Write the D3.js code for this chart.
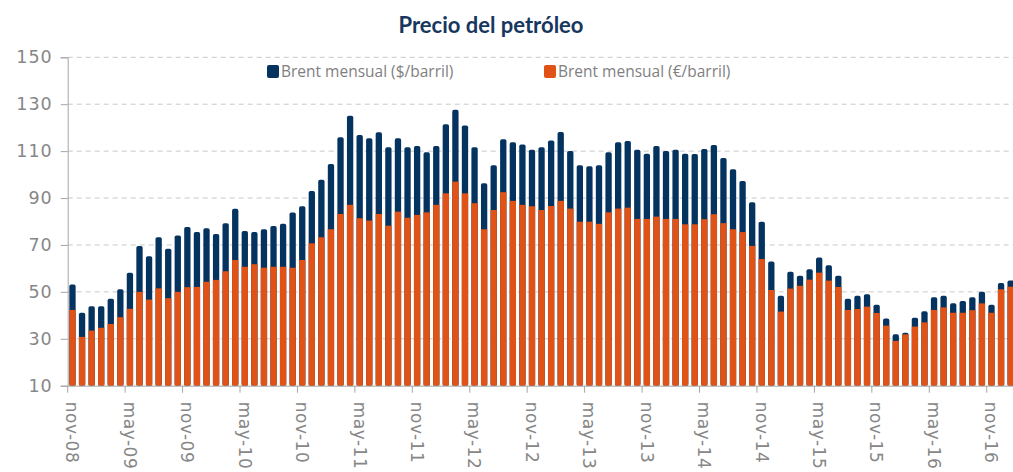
<!DOCTYPE html>
<html>
<head>
<meta charset="utf-8">
<script src="https://cdn.jsdelivr.net/npm/d3@7"></script>
<style>
  body { margin: 0; background: #fff; }
  svg { display: block; }
</style>
</head>
<body>
<div id="chart"></div>
<script>
// meses, nov-08 .. ene-17
var months = [
  "nov-08", "dic-08",
  "ene-09", "feb-09", "mar-09", "abr-09", "may-09", "jun-09", "jul-09", "ago-09", "sep-09", "oct-09", "nov-09", "dic-09",
  "ene-10", "feb-10", "mar-10", "abr-10", "may-10", "jun-10", "jul-10", "ago-10", "sep-10", "oct-10", "nov-10", "dic-10",
  "ene-11", "feb-11", "mar-11", "abr-11", "may-11", "jun-11", "jul-11", "ago-11", "sep-11", "oct-11", "nov-11", "dic-11",
  "ene-12", "feb-12", "mar-12", "abr-12", "may-12", "jun-12", "jul-12", "ago-12", "sep-12", "oct-12", "nov-12", "dic-12",
  "ene-13", "feb-13", "mar-13", "abr-13", "may-13", "jun-13", "jul-13", "ago-13", "sep-13", "oct-13", "nov-13", "dic-13",
  "ene-14", "feb-14", "mar-14", "abr-14", "may-14", "jun-14", "jul-14", "ago-14", "sep-14", "oct-14", "nov-14", "dic-14",
  "ene-15", "feb-15", "mar-15", "abr-15", "may-15", "jun-15", "jul-15", "ago-15", "sep-15", "oct-15", "nov-15", "dic-15",
  "ene-16", "feb-16", "mar-16", "abr-16", "may-16", "jun-16", "jul-16", "ago-16", "sep-16", "oct-16", "nov-16", "dic-16",
  "ene-17"
];

// Brent mensual ($/barril)
var brentUsd = [
  53.1, 41.1,
  43.9, 43.9, 47.1, 51.1, 58.2, 69.6, 65.2, 73.3, 68.4, 74.0, 77.7, 75.5,
  77.1, 74.7, 79.3, 85.4, 76.0, 75.5, 76.7, 78.1, 79.0, 83.8, 86.5, 93.0,
  97.8, 104.5, 115.9, 125.1, 116.9, 115.5, 118.1, 111.7, 115.5, 111.7, 112.2, 109.5,
  112.2, 121.5, 127.6, 120.9, 111.7, 96.3, 104.0, 115.1, 113.8, 112.8, 110.6, 111.7,
  114.5, 118.2, 110.1, 104.0, 103.6, 104.0, 109.5, 113.8, 114.3, 110.6, 108.9, 112.2,
  110.1, 110.6, 108.9, 108.8, 110.9, 112.6, 107.1, 102.3, 97.3, 88.2, 79.9, 62.9,
  48.3, 58.6, 56.9, 59.6, 64.6, 61.3, 56.9, 47.1, 48.3, 49.0, 44.5, 38.6,
  31.9, 32.6, 39.0, 41.7, 47.7, 48.3, 45.1, 46.1, 47.7, 50.0, 44.5, 53.8,
  54.9
];

// Brent mensual (€/barril)
var brentEur = [
  42.3, 30.8,
  33.5, 34.7, 36.3, 39.2, 42.8, 50.0, 46.7, 51.5, 47.3, 50.0, 52.0, 52.1,
  54.3, 55.1, 58.8, 63.6, 60.7, 61.8, 60.3, 60.7, 60.7, 60.3, 63.6, 70.7,
  73.3, 76.7, 83.2, 87.1, 81.4, 80.4, 83.2, 78.2, 84.2, 81.6, 82.8, 83.9,
  87.1, 92.0, 97.0, 92.0, 87.8, 76.7, 84.9, 92.5, 88.8, 87.1, 86.5, 84.9,
  86.6, 88.8, 85.5, 79.9, 79.9, 79.0, 83.9, 85.5, 85.9, 81.1, 81.1, 82.1,
  81.1, 81.1, 78.8, 78.8, 81.0, 83.1, 79.3, 76.7, 75.5, 69.6, 64.0, 50.8,
  41.6, 51.4, 52.6, 55.2, 58.2, 54.8, 52.1, 42.3, 42.7, 43.7, 41.0, 35.6,
  29.1, 31.9, 35.2, 37.0, 42.3, 43.4, 41.1, 41.1, 42.2, 45.1, 41.1, 51.1,
  52.2
];

var yTicks = [10, 30, 50, 70, 90, 110, 130, 150];
var seriesNames = ["Brent mensual ($/barril)", "Brent mensual (\u20ac/barril)"];
var colors = ["#05335f", "#e05215"];

var width = 1013,
  height = 472,
  plotLeft = 67.7,
  plotTop = 57.3,
  plotBottom = 385.7,
  step = 9.573;

var svg = d3.select("#chart").append("svg")
  .attr("width", width)
  .attr("height", height);

var x = d3.scaleBand()
  .domain(months)
  .range([plotLeft, plotLeft + step * months.length])
  .paddingInner(0.34)
  .paddingOuter(0.17);

var y = d3.scaleLinear()
  .domain([10, 150])
  .range([plotBottom, plotTop]);

// titulo
svg.append("text")
  .attr("x", 491)
  .attr("y", 33)
  .attr("text-anchor", "middle")
  .style("font-family", "Lato, 'Open Sans', sans-serif")
  .style("font-weight", "bold")
  .style("font-size", "22px")
  .style("fill", "#17375e")
  .text("Precio del petr\u00f3leo");

// grid
svg.append("g")
  .selectAll("line")
  .data(yTicks.slice(1))
  .enter().append("line")
  .attr("x1", plotLeft)
  .attr("x2", width)
  .attr("y1", function(d){ return y(d); })
  .attr("y2", function(d){ return y(d); })
  .style("stroke", "#c8c8c8")
  .style("stroke-width", 1)
  .style("stroke-dasharray", "5,4");

// barras $ detras, € delante
svg.append("g")
  .selectAll("rect")
  .data(brentUsd)
  .enter().append("rect")
  .attr("x", function(d, i){ return x(months[i]); })
  .attr("y", function(d){ return y(d); })
  .attr("width", x.bandwidth())
  .attr("height", function(d){ return plotBottom - y(d); })
  .attr("rx", 1.8)
  .style("fill", colors[0]);

svg.append("g")
  .selectAll("rect")
  .data(brentEur)
  .enter().append("rect")
  .attr("x", function(d, i){ return x(months[i]); })
  .attr("y", function(d){ return y(d); })
  .attr("width", x.bandwidth())
  .attr("height", function(d){ return plotBottom - y(d); })
  .style("fill", colors[1]);

// eje y
var yAxis = svg.append("g")
  .attr("transform", "translate(" + plotLeft + ",0)")
  .call(d3.axisLeft(y).tickValues(yTicks).tickSize(7).tickPadding(8));
yAxis.select(".domain").style("stroke", "#a6a6a6");
yAxis.selectAll(".tick line").style("stroke", "#a6a6a6");
yAxis.selectAll("text")
  .style("font-family", "'DejaVu Sans', sans-serif")
  .style("font-size", "17.5px")
  .style("letter-spacing", "1px")
  .style("fill", "#878787");

// eje x: marcas cada 6 meses en el borde de la categoria, etiqueta centrada
var xTickVals = months.filter(function(d, i){ return i % 6 === 0; });
var xAxis = svg.append("g")
  .attr("transform", "translate(0," + plotBottom + ")")
  .call(d3.axisBottom(x).tickValues(xTickVals).tickSize(7).tickSizeOuter(0));
xAxis.select(".domain").style("stroke", "#a6a6a6");
xAxis.selectAll(".tick line")
  .attr("x1", -step / 2)
  .attr("x2", -step / 2)
  .style("stroke", "#a6a6a6");
xAxis.selectAll("text")
  .attr("transform", "rotate(90)")
  .attr("x", 16)
  .attr("y", 0)
  .attr("dy", "0.36em")
  .attr("text-anchor", "start")
  .style("font-family", "'DejaVu Sans', sans-serif")
  .style("font-size", "17px")
  .style("letter-spacing", "0.5px")
  .style("fill", "#878787");

// leyenda
var legendX = [267, 544];
var legend = svg.append("g")
  .selectAll("g")
  .data(seriesNames)
  .enter().append("g")
  .attr("transform", function(d, i){ return "translate(" + legendX[i] + ",65)"; });
legend.append("rect")
  .attr("width", 12)
  .attr("height", 13)
  .attr("rx", 2)
  .style("fill", function(d, i){ return colors[i]; });
legend.append("text")
  .attr("x", 14)
  .attr("y", 12)
  .style("font-family", "'Open Sans', sans-serif")
  .style("font-size", "15.5px")
  .style("fill", "#7f7f7f")
  .text(function(d){ return d; });
</script>
</body>
</html>
